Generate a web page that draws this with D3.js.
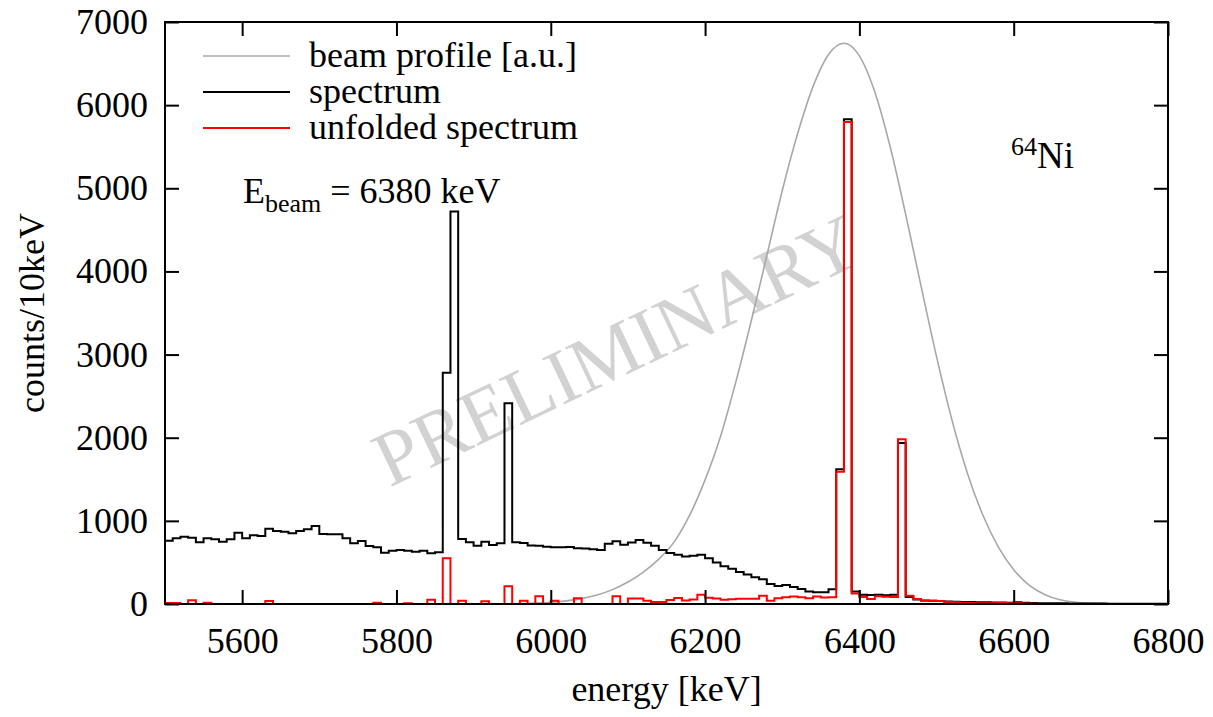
<!DOCTYPE html>
<html>
<head>
<meta charset="utf-8">
<script src="https://cdn.jsdelivr.net/npm/d3@7"></script>
<style>
  html, body { margin: 0; padding: 0; background: #fff; }
  svg text { font-family: "Liberation Serif", "Times New Roman", serif; }
</style>
</head>
<body>
<svg id="chart" width="1213" height="717"></svg>
<script>
// ---------- data ----------
const binWidth = 10; // keV
const binStarts = d3.range(5500, 6800, binWidth);

const spectrum = [
  761, 790, 810, 797, 742, 790, 778, 750, 778, 858,
  790, 826, 818, 906, 878, 870, 850, 878, 898, 938,
  842, 838, 838, 790, 730, 758, 698, 682, 617, 641,
  650, 641, 629, 641, 609, 621, 2780, 4720, 782, 742,
  700, 750, 710, 730, 2414, 742, 735, 705, 700, 690,
  682, 682, 686, 670, 668, 660, 648, 725, 755, 712,
  740, 770, 736, 700, 650, 612, 592, 572, 580, 592,
  550, 500, 455, 425, 385, 355, 321, 297, 240, 216,
  228, 205, 180, 150, 141, 141, 176, 1620, 5830, 150,
  110, 108, 112, 105, 110, 1935, 85, 55, 42, 38,
  35, 30, 28, 25, 24, 20, 20, 18, 18, 15,
  20, 15, 12, 10, 10, 8, 8, 6, 6, 5,
  5, 5, 4, 4, 4, 3, 3, 3, 3, 3
];

const unfolded = [
  12, 12, 0, 45, 0, 15, 0, 0, 0, 0,
  0, 0, 0, 36, 0, 0, 0, 0, 0, 0,
  0, 0, 0, 0, 0, 0, 0, 15, 0, 0,
  0, 10, 0, 0, 52, 0, 549, 0, 38, 0,
  0, 34, 0, 0, 212, 0, 40, 0, 92, 0,
  40, 0, 0, 68, 0, 0, 0, 0, 92, 0,
  65, 65, 40, 25, 25, 48, 72, 42, 55, 112,
  76, 66, 50, 56, 64, 64, 64, 100, 40, 68,
  80, 90, 80, 68, 90, 78, 82, 1590, 5797, 125,
  85, 60, 92, 88, 85, 1981, 100, 60, 40, 38,
  35, 25, 20, 15, 12, 10, 10, 8, 12, 8,
  10, 5, 3, 0, 0, 0, 0, 0, 0, 0,
  0, 0, 0, 0, 0, 0, 0, 0, 0, 0
];

const beamEnergy = [5500, 5900, 5940, 5960, 5980, 6000, 6020, 6040, 6060, 6080, 6100, 6120, 6140,
  6160, 6180, 6200, 6220, 6240, 6260, 6280, 6300, 6320, 6340, 6360, 6380, 6400, 6420,
  6440, 6460, 6480, 6500, 6520, 6540, 6560, 6580, 6600, 6620, 6640, 6660, 6680, 6700,
  6720, 6750, 6800];
const beamProfile = [0, 1, 3, 6, 11, 21, 38, 65, 108, 173, 264, 384, 539,
  747, 1068, 1493, 2015, 2676, 3410, 4188, 4970, 5658, 6226, 6610, 6744, 6592, 6158,
  5496, 4686, 3820, 2976, 2214, 1574, 1070, 686, 411, 227, 115, 50, 22, 10,
  4, 1, 0];

const xTicks = [5600, 5800, 6000, 6200, 6400, 6600, 6800];
const yTicks = [0, 1000, 2000, 3000, 4000, 5000, 6000, 7000];
const legendLabels = ["beam profile [a.u.]", "spectrum", "unfolded spectrum"];

// ---------- layout ----------
const svg = d3.select("#chart");
const L = 165, R = 1168, T = 22, B = 604;
const x = d3.scaleLinear().domain([5500, 6800]).range([L, R]);
const y = d3.scaleLinear().domain([0, 7000]).range([B, T]);
const FS = 36;

// watermark
svg.append("text")
  .attr("transform", `translate(628,374) rotate(-25.5)`)
  .attr("text-anchor", "middle")
  .attr("font-size", 78)
  .attr("fill", "#d2d2d2")
  .text("PRELIMINARY");

svg.append("clipPath").attr("id", "clip")
  .append("rect").attr("x", L).attr("y", T).attr("width", R - L).attr("height", B - T + 2);

const plot = svg.append("g").attr("clip-path", "url(#clip)");

// beam profile
plot.append("path")
  .datum(beamEnergy.map((e, i) => [e, beamProfile[i]]))
  .attr("fill", "none")
  .attr("stroke", "#a8a8a8")
  .attr("stroke-width", 1.6)
  .attr("d", d3.line().x(d => x(d[0])).y(d => y(d[1])).curve(d3.curveMonotoneX));

function stepData(vals) {
  const pts = binStarts.map((e, i) => [e, vals[i]]);
  pts.push([binStarts[binStarts.length - 1] + binWidth, vals[vals.length - 1]]);
  return pts;
}
const stepLine = d3.line().x(d => x(d[0])).y(d => y(d[1])).curve(d3.curveStepAfter);

plot.append("path")
  .datum(stepData(spectrum))
  .attr("fill", "none")
  .attr("stroke", "#000")
  .attr("stroke-width", 2)
  .attr("d", stepLine);

plot.append("path")
  .datum(stepData(unfolded))
  .attr("fill", "none")
  .attr("stroke", "#ff0000")
  .attr("stroke-width", 2)
  .attr("d", stepLine);

// axes
const TK = 14;
const gB = svg.append("g").attr("transform", `translate(0,${B})`)
  .call(d3.axisBottom(x).tickValues(xTicks).tickSize(-TK).tickPadding(23).tickFormat(d3.format("d")));
const gT = svg.append("g").attr("transform", `translate(0,${T})`)
  .call(d3.axisTop(x).tickValues(xTicks).tickSize(-TK).tickFormat(""));
const gL = svg.append("g").attr("transform", `translate(${L},0)`)
  .call(d3.axisLeft(y).tickValues(yTicks).tickSize(-TK).tickPadding(17).tickFormat(d3.format("d")));
const gR = svg.append("g").attr("transform", `translate(${R},0)`)
  .call(d3.axisRight(y).tickValues(yTicks).tickSize(-TK).tickFormat(""));
[gB, gT, gL, gR].forEach(g => {
  g.select(".domain").remove();
  g.selectAll(".tick line").attr("stroke", "#000").attr("stroke-width", 2);
  g.selectAll(".tick text").attr("font-size", FS).attr("fill", "#000")
    .attr("font-family", "'Liberation Serif', 'Times New Roman', serif");
});

svg.append("rect")
  .attr("x", L).attr("y", T).attr("width", R - L).attr("height", B - T)
  .attr("fill", "none").attr("stroke", "#000").attr("stroke-width", 2);

// axis titles
svg.append("text")
  .attr("x", (L + R) / 2).attr("y", 701)
  .attr("text-anchor", "middle").attr("font-size", FS)
  .text("energy [keV]");
svg.append("text")
  .attr("transform", `translate(44,${(T + B) / 2}) rotate(-90)`)
  .attr("text-anchor", "middle").attr("font-size", FS)
  .text("counts/10keV");

// legend
const legendColors = ["#a8a8a8", "#000", "#ff0000"];
const legendY = [56, 92, 128];
legendLabels.forEach((lab, i) => {
  svg.append("line")
    .attr("x1", 203).attr("x2", 290)
    .attr("y1", legendY[i]).attr("y2", legendY[i])
    .attr("stroke", legendColors[i]).attr("stroke-width", i === 0 ? 1.6 : 2);
  svg.append("text")
    .attr("x", 309).attr("y", legendY[i] + 11)
    .attr("font-size", FS)
    .text(lab);
});

// annotations
const eb = svg.append("text").attr("x", 243).attr("y", 203).attr("font-size", FS);
eb.append("tspan").text("E");
eb.append("tspan").attr("font-size", 26).attr("dy", 9).text("beam");
eb.append("tspan").attr("dy", -9).text(" = 6380 keV");

const ni = svg.append("text").attr("x", 1011).attr("y", 168).attr("font-size", FS);
ni.append("tspan").attr("font-size", 26).attr("dy", -13).text("64");
ni.append("tspan").attr("dy", 13).attr("font-size", 37).text("Ni");
</script>
</body>
</html>
